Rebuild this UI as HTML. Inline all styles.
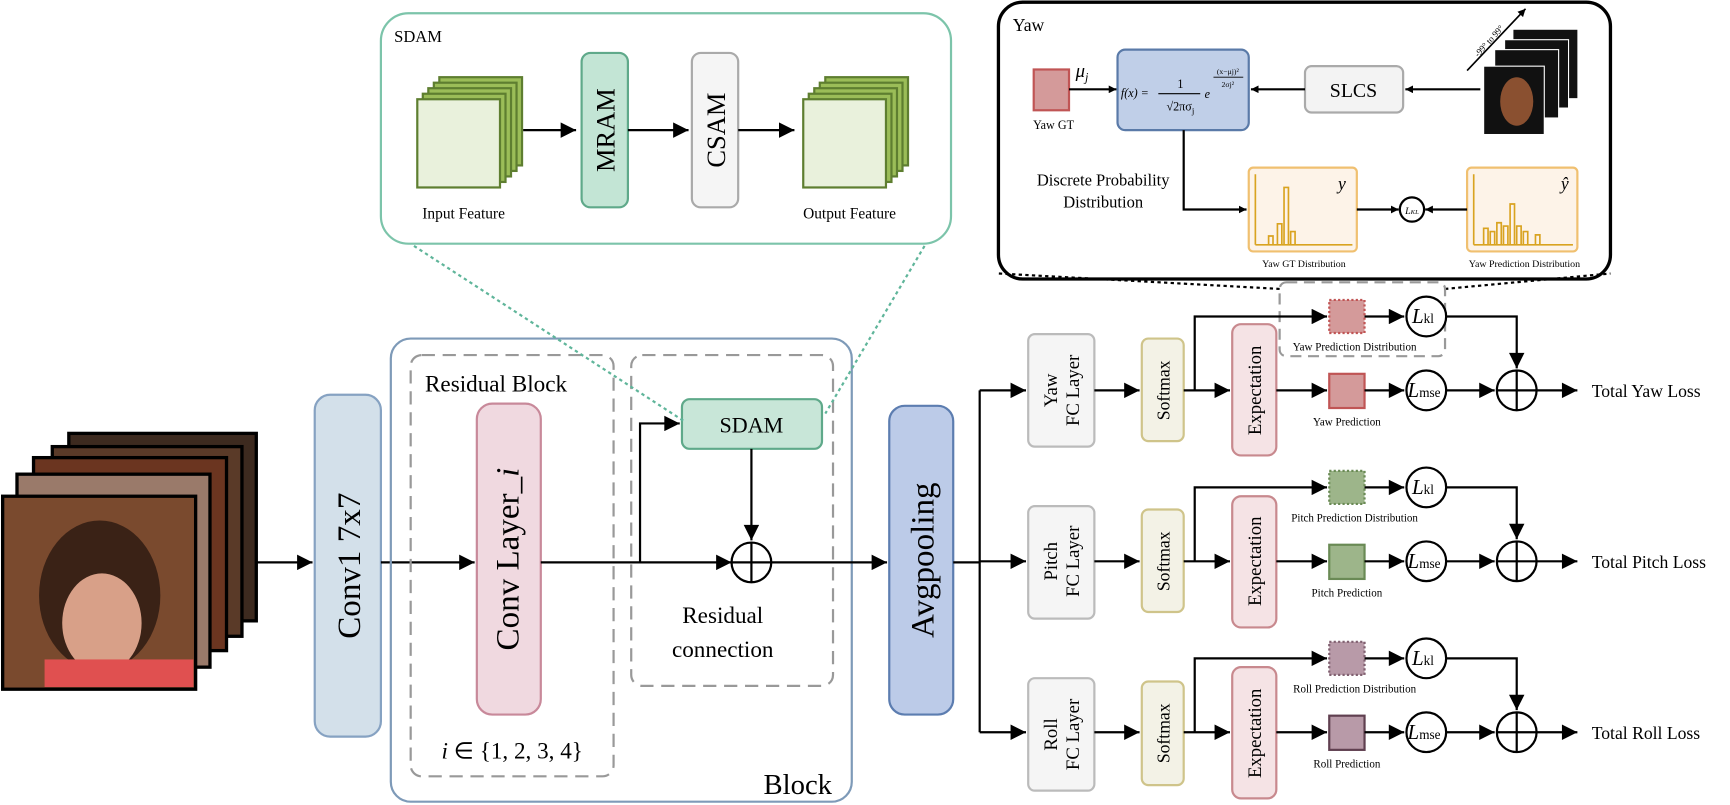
<!DOCTYPE html>
<html><head><meta charset="utf-8"><style>
html,body{margin:0;padding:0;background:#fff;overflow:hidden}
svg{display:block}
text{font-family:"Liberation Serif",serif;fill:#000}
</style></head><body>
<svg width="1730" height="805" viewBox="0 0 1568 730" xmlns="http://www.w3.org/2000/svg">
<defs>
<marker id="a" viewBox="0 0 10 10" refX="10" refY="5" markerWidth="7" markerHeight="7" orient="auto" markerUnits="userSpaceOnUse"><path d="M0,0L10,5L0,10z" fill="#000"/></marker>
<marker id="b" viewBox="0 0 10 10" refX="10" refY="5" markerWidth="16" markerHeight="14" orient="auto" markerUnits="userSpaceOnUse"><path d="M0,0L10,5L0,10z" fill="#000"/></marker>
</defs>
<g stroke-width="2" fill="none">

<!-- face stack -->
<rect x="62" y="393" width="170" height="170" fill="#3d2a1f" stroke="#000" stroke-width="3"/>
<rect x="47" y="405" width="172" height="172" fill="#5a3a28" stroke="#000" stroke-width="3"/>
<rect x="30" y="415" width="175" height="175" fill="#6b3520" stroke="#000" stroke-width="3"/>
<rect x="15" y="430" width="175" height="175" fill="#9a7a6a" stroke="#000" stroke-width="3"/>
<rect x="2" y="450" width="175" height="175" fill="#7a4a2e" stroke="#000" stroke-width="3"/>
<ellipse cx="90" cy="540" rx="55" ry="68" fill="#3a2216" stroke="none"/>
<ellipse cx="92" cy="565" rx="36" ry="45" fill="#d8a088" stroke="none"/>
<rect x="40" y="598" width="135" height="25" fill="#e05050" stroke="none"/>

<path d="M232,510H283" stroke="#000" marker-end="url(#b)"/>

<!-- Conv1 -->
<rect x="285" y="358" width="60" height="310" rx="14" fill="#d3e0ea" stroke="#86a2c2"/>
<text transform="translate(326,513) rotate(-90)" font-size="30" text-anchor="middle" stroke="none">Conv1 7x7</text>
<path d="M345,510H430" stroke="#000" marker-end="url(#b)"/>

<!-- Block -->
<rect x="354" y="307" width="418" height="420" rx="18" stroke="#7e9ab8"/>
<text x="692" y="720" font-size="26" stroke="none">Block</text>
<rect x="372" y="322" width="184" height="382" rx="10" stroke="#999" stroke-dasharray="12,7"/>
<text x="385" y="355" font-size="21" stroke="none">Residual Block</text>
<text x="400" y="688" font-size="21" stroke="none"><tspan font-style="italic">i</tspan> ∈ {1, 2, 3, 4}</text>
<rect x="432" y="366" width="58" height="282" rx="14" fill="#f0d9e0" stroke="#c8899a"/>
<text transform="translate(470,507) rotate(-90)" font-size="30" text-anchor="middle" stroke="none">Conv Layer_<tspan font-style="italic">i</tspan></text>
<rect x="572" y="322" width="183" height="300" rx="10" stroke="#999" stroke-dasharray="12,7"/>
<rect x="618" y="362" width="127" height="45" rx="7" fill="#c8e6d8" stroke="#5fa98a"/>
<text x="681" y="392" font-size="20" text-anchor="middle" stroke="none">SDAM</text>
<path d="M490,510H580V384H616" stroke="#000" marker-end="url(#b)"/>
<path d="M580,510H663" stroke="#000" marker-end="url(#b)"/>
<path d="M681,407V490" stroke="#000" marker-end="url(#b)"/>
<circle cx="681" cy="510" r="18" stroke="#000"/>
<path d="M663,510H699M681,492V528" stroke="#000"/>
<path d="M699,510H804" stroke="#000" marker-end="url(#b)"/>
<text x="655" y="565" font-size="21" text-anchor="middle" stroke="none">Residual</text>
<text x="655" y="596" font-size="21" text-anchor="middle" stroke="none">connection</text>

<!-- Avgpooling -->
<rect x="806" y="368" width="58" height="280" rx="14" fill="#bccbe8" stroke="#5c7db0"/>
<text transform="translate(846,508) rotate(-90)" font-size="30" text-anchor="middle" stroke="none">Avgpooling</text>
<path d="M864,510H888M888,354V664" stroke="#000"/>
<path d="M888,354H930" stroke="#000" marker-end="url(#b)"/>
<path d="M888,509H930" stroke="#000" marker-end="url(#b)"/>
<path d="M888,664H930" stroke="#000" marker-end="url(#b)"/>

<!-- SDAM panel -->
<rect x="345" y="12" width="517" height="209" rx="25" stroke="#7cc4aa"/>
<text x="357" y="38" font-size="15" stroke="none">SDAM</text>
<g stroke="#5e7e30" fill="#9bbd58">
<rect x="398" y="70" width="75" height="80"/><rect x="393" y="75" width="75" height="80"/><rect x="388" y="80" width="75" height="80"/><rect x="383" y="85" width="75" height="80"/>
<rect x="378" y="90" width="75" height="80" fill="#e9f1dc"/>
<rect x="748" y="70" width="75" height="80"/><rect x="743" y="75" width="75" height="80"/><rect x="738" y="80" width="75" height="80"/><rect x="733" y="85" width="75" height="80"/>
<rect x="728" y="90" width="75" height="80" fill="#e9f1dc"/>
</g>
<text x="420" y="198" font-size="14" text-anchor="middle" stroke="none">Input Feature</text>
<text x="770" y="198" font-size="14" text-anchor="middle" stroke="none">Output Feature</text>
<path d="M474,118H522" stroke="#000" marker-end="url(#b)"/>
<rect x="527" y="48" width="42" height="140" rx="8" fill="#c3e5d5" stroke="#5fa98a"/>
<text transform="translate(557,118) rotate(-90)" font-size="24" text-anchor="middle" stroke="none">MRAM</text>
<path d="M569,118H624" stroke="#000" marker-end="url(#b)"/>
<rect x="627" y="48" width="42" height="140" rx="8" fill="#f5f5f5" stroke="#aaa"/>
<text transform="translate(657,118) rotate(-90)" font-size="24" text-anchor="middle" stroke="none">CSAM</text>
<path d="M669,118H720" stroke="#000" marker-end="url(#b)"/>
<path d="M375,223L620,382M838,223L748,375" stroke="#5fb59a" stroke-dasharray="3,3"/>

<!-- Yaw panel -->
<rect x="905" y="2" width="555" height="251" rx="22" stroke="#000" stroke-width="3"/>
<text x="918" y="28" font-size="16" stroke="none">Yaw</text>
<rect x="937" y="63" width="32" height="37" fill="#d49a9a" stroke="#c05555"/>
<text x="955" y="117" font-size="11" text-anchor="middle" stroke="none">Yaw GT</text>
<text x="975" y="70" font-size="17" font-style="italic" stroke="none">μ<tspan font-size="11" dy="4">j</tspan></text>
<path d="M969,81H1012" stroke="#000" marker-end="url(#a)"/>
<rect x="1013" y="45" width="119" height="73" rx="7" fill="#c0cfe8" stroke="#5a7aa8"/>
<text x="1016" y="88" font-size="11" font-style="italic" stroke="none">f(x) =</text>
<text x="1070" y="80" font-size="11" text-anchor="middle" stroke="none">1</text>
<path d="M1050,85H1088" stroke="#000" stroke-width="1"/>
<text x="1070" y="100" font-size="11" text-anchor="middle" stroke="none">√2πσ<tspan font-size="8" dy="3">j</tspan></text>
<text x="1092" y="89" font-size="11" font-style="italic" stroke="none">e</text>
<text x="1113" y="67" font-size="7" text-anchor="middle" stroke="none">(x−μj)²</text>
<path d="M1100,70H1127" stroke="#000" stroke-width="0.7"/>
<text x="1113" y="79" font-size="7" text-anchor="middle" stroke="none">2σj²</text>
<rect x="1183" y="60" width="89" height="42" rx="6" fill="#f3f3f3" stroke="#aaa"/>
<text x="1227" y="88" font-size="18" text-anchor="middle" stroke="none">SLCS</text>
<path d="M1183,81H1134" stroke="#000" marker-end="url(#a)"/>
<path d="M1342,81H1274" stroke="#000" marker-end="url(#a)"/>
<rect x="1372" y="27" width="58" height="62" fill="#111"/><rect x="1364" y="36" width="58" height="62" fill="#111" stroke="#fff" stroke-width="1"/><rect x="1355" y="45" width="58" height="62" fill="#111" stroke="#fff" stroke-width="1"/>
<rect x="1345" y="60" width="55" height="62" fill="#111" stroke="#fff" stroke-width="1"/>
<ellipse cx="1375" cy="92" rx="15" ry="22" fill="#8a5030" stroke="none"/>
<path d="M1330,64L1383,8" stroke="#000" stroke-width="1.5" marker-end="url(#a)"/>
<text transform="translate(1340,52) rotate(-48)" font-size="8" stroke="none">-99° to 99°</text>
<text x="1000" y="168" font-size="15" text-anchor="middle" stroke="none">Discrete Probability</text>
<text x="1000" y="188" font-size="15" text-anchor="middle" stroke="none">Distribution</text>
<path d="M1073,118V190H1130" stroke="#000" marker-end="url(#a)"/>
<g stroke="#d9a320" stroke-width="1.5">
<rect x="1132" y="152" width="98" height="76" rx="4" fill="#fdf3e8" stroke="#f0c070" stroke-width="2"/>
<path d="M1138,222V158M1138,222H1226"/>
<path d="M1150,222V214H1154V222M1158,222V203H1162V222M1164,222V170H1168V222M1170,222V210H1174V222"/>
<rect x="1330" y="152" width="100" height="76" rx="4" fill="#fdf3e8" stroke="#f0c070" stroke-width="2"/>
<path d="M1336,222V158M1336,222H1426"/>
<path d="M1345,222V207H1349V222M1351,222V210H1355V222M1357,222V202H1361V222M1363,222V205H1367V222M1369,222V185H1373V222M1375,222V205H1379V222M1381,222V210H1385V222M1392,222V213H1396V222"/>
</g>
<text x="1213" y="172" font-size="16" font-style="italic" stroke="none">y</text>
<text x="1415" y="172" font-size="16" font-style="italic" stroke="none">ŷ</text>
<text x="1182" y="242" font-size="9" text-anchor="middle" stroke="none">Yaw GT Distribution</text>
<text x="1382" y="242" font-size="9" text-anchor="middle" stroke="none">Yaw Prediction Distribution</text>
<path d="M1230,190H1268" stroke="#000" marker-end="url(#a)"/>
<circle cx="1280" cy="190" r="11" stroke="#000"/>
<text x="1280" y="194" font-size="9" font-style="italic" text-anchor="middle" stroke="none">L<tspan font-size="6">KL</tspan></text>
<path d="M1330,190H1292" stroke="#000" marker-end="url(#a)"/>
<path d="M1160,262L905,248M1310,262L1460,248" stroke="#000" stroke-dasharray="3,3"/>
<rect x="1160" y="256" width="150" height="67" rx="6" stroke="#999" stroke-dasharray="10,6"/>
</g>

<g fill="none" stroke-width="2">
<!-- Yaw row y=354 -->
<rect x="932" y="303" width="60" height="102" rx="6" fill="#f5f5f5" stroke="#bbb"/>
<text transform="translate(958,354) rotate(-90)" font-size="17" text-anchor="middle" stroke="none">Yaw</text>
<text transform="translate(978,354) rotate(-90)" font-size="17" text-anchor="middle" stroke="none">FC Layer</text>
<rect x="1035" y="307" width="38" height="93" rx="6" fill="#f3f2e6" stroke="#cfc48a"/>
<text transform="translate(1060,354) rotate(-90)" font-size="16" text-anchor="middle" stroke="none">Softmax</text>
<rect x="1117" y="294" width="40" height="119" rx="8" fill="#f5e3e5" stroke="#c8898e"/>
<text transform="translate(1143,354) rotate(-90)" font-size="17" text-anchor="middle" stroke="none">Expectation</text>
<path d="M992,354H1033" stroke="#000" marker-end="url(#b)"/>
<path d="M1073,354H1115" stroke="#000" marker-end="url(#b)"/>
<path d="M1083,354V287H1203" stroke="#000" marker-end="url(#b)"/>
<path d="M1157,354H1203" stroke="#000" marker-end="url(#b)"/>
<rect x="1205" y="272" width="32" height="30" fill="#d49a9a" stroke="#c05555" stroke-dasharray="2,2"/>
<rect x="1205" y="339" width="32" height="31" fill="#d49a9a" stroke="#c05555"/>
<text x="1228" y="318" font-size="10" text-anchor="middle" stroke="none">Yaw Prediction Distribution</text>
<text x="1221" y="386" font-size="10" text-anchor="middle" stroke="none">Yaw Prediction</text>

<!-- Pitch row y=509 -->
<rect x="932" y="459" width="60" height="102" rx="6" fill="#f5f5f5" stroke="#bbb"/>
<text transform="translate(958,509) rotate(-90)" font-size="17" text-anchor="middle" stroke="none">Pitch</text>
<text transform="translate(978,509) rotate(-90)" font-size="17" text-anchor="middle" stroke="none">FC Layer</text>
<rect x="1035" y="462" width="38" height="93" rx="6" fill="#f3f2e6" stroke="#cfc48a"/>
<text transform="translate(1060,509) rotate(-90)" font-size="16" text-anchor="middle" stroke="none">Softmax</text>
<rect x="1117" y="450" width="40" height="119" rx="8" fill="#f5e3e5" stroke="#c8898e"/>
<text transform="translate(1143,509) rotate(-90)" font-size="17" text-anchor="middle" stroke="none">Expectation</text>
<path d="M992,509H1033" stroke="#000" marker-end="url(#b)"/>
<path d="M1073,509H1115" stroke="#000" marker-end="url(#b)"/>
<path d="M1083,509V442H1203" stroke="#000" marker-end="url(#b)"/>
<path d="M1157,509H1203" stroke="#000" marker-end="url(#b)"/>
<rect x="1205" y="427" width="32" height="30" fill="#9db58a" stroke="#6a8a55" stroke-dasharray="2,2"/>
<rect x="1205" y="494" width="32" height="31" fill="#9db58a" stroke="#6a8a55"/>
<text x="1228" y="473" font-size="10" text-anchor="middle" stroke="none">Pitch Prediction Distribution</text>
<text x="1221" y="541" font-size="10" text-anchor="middle" stroke="none">Pitch Prediction</text>

<!-- Roll row y=664 -->
<rect x="932" y="615" width="60" height="102" rx="6" fill="#f5f5f5" stroke="#bbb"/>
<text transform="translate(958,666) rotate(-90)" font-size="17" text-anchor="middle" stroke="none">Roll</text>
<text transform="translate(978,666) rotate(-90)" font-size="17" text-anchor="middle" stroke="none">FC Layer</text>
<rect x="1035" y="618" width="38" height="94" rx="6" fill="#f3f2e6" stroke="#cfc48a"/>
<text transform="translate(1060,665) rotate(-90)" font-size="16" text-anchor="middle" stroke="none">Softmax</text>
<rect x="1117" y="605" width="40" height="119" rx="8" fill="#f5e3e5" stroke="#c8898e"/>
<text transform="translate(1143,665) rotate(-90)" font-size="17" text-anchor="middle" stroke="none">Expectation</text>
<path d="M992,664H1033" stroke="#000" marker-end="url(#b)"/>
<path d="M1073,664H1115" stroke="#000" marker-end="url(#b)"/>
<path d="M1083,664V597H1203" stroke="#000" marker-end="url(#b)"/>
<path d="M1157,664H1203" stroke="#000" marker-end="url(#b)"/>
<rect x="1205" y="582" width="32" height="30" fill="#b89aa8" stroke="#806070" stroke-dasharray="2,2"/>
<rect x="1205" y="649" width="32" height="31" fill="#b89aa8" stroke="#604050"/>
<text x="1228" y="628" font-size="10" text-anchor="middle" stroke="none">Roll Prediction Distribution</text>
<text x="1221" y="696" font-size="10" text-anchor="middle" stroke="none">Roll Prediction</text>

<!-- losses -->
<g stroke="#000" marker-end="url(#b)">
<path d="M1237,287H1273"/><path d="M1237,354H1273"/><path d="M1237,442H1273"/>
<path d="M1237,509H1273"/><path d="M1237,597H1273"/><path d="M1237,664H1273"/>
<path d="M1311,287H1375V334"/><path d="M1311,442H1375V489"/><path d="M1311,597H1375V644"/>
<path d="M1311,354H1355"/><path d="M1311,509H1355"/><path d="M1311,664H1355"/>
<path d="M1393,354H1430"/><path d="M1393,509H1430"/><path d="M1393,664H1430"/>
</g>
<g stroke="#000">
<circle cx="1293" cy="287" r="18" fill="#fff"/><circle cx="1293" cy="354" r="18" fill="#fff"/>
<circle cx="1293" cy="442" r="18" fill="#fff"/><circle cx="1293" cy="509" r="18" fill="#fff"/>
<circle cx="1293" cy="597" r="18" fill="#fff"/><circle cx="1293" cy="664" r="18" fill="#fff"/>
<circle cx="1375" cy="354" r="18"/><path d="M1357,354H1393M1375,336V372"/>
<circle cx="1375" cy="509" r="18"/><path d="M1357,509H1393M1375,491V527"/>
<circle cx="1375" cy="664" r="18"/><path d="M1357,664H1393M1375,646V682"/>
</g>
<g font-size="19" font-style="italic" stroke="none">
<text x="1280" y="293">L<tspan font-size="12" font-style="normal">kl</tspan></text>
<text x="1276" y="360">L<tspan font-size="12" font-style="normal">mse</tspan></text>
<text x="1280" y="448">L<tspan font-size="12" font-style="normal">kl</tspan></text>
<text x="1276" y="515">L<tspan font-size="12" font-style="normal">mse</tspan></text>
<text x="1280" y="603">L<tspan font-size="12" font-style="normal">kl</tspan></text>
<text x="1276" y="670">L<tspan font-size="12" font-style="normal">mse</tspan></text>
</g>
<text x="1443" y="360" font-size="16" stroke="none">Total Yaw Loss</text>
<text x="1443" y="515" font-size="16" stroke="none">Total Pitch Loss</text>
<text x="1443" y="670" font-size="16" stroke="none">Total Roll Loss</text>
</g>
</svg>
</body></html>
